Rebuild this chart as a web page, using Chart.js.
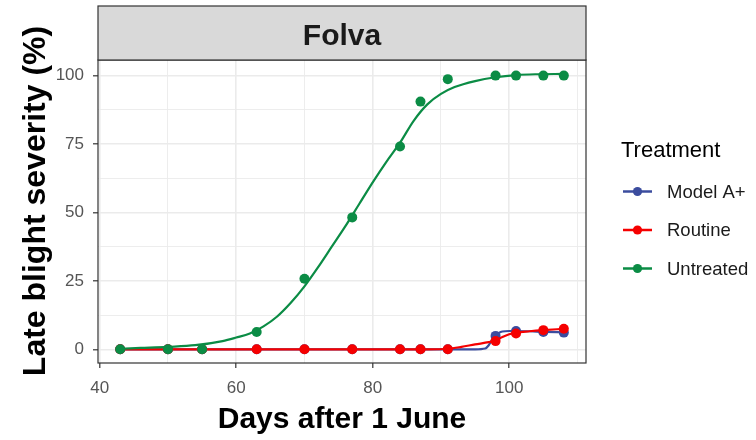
<!DOCTYPE html>
<html>
<head>
<meta charset="utf-8">
<script src="https://cdn.jsdelivr.net/npm/chart.js@4.4.1/dist/chart.umd.min.js"></script>
<style>
  html, body { margin: 0; padding: 0; background: #ffffff; }
  #wrap { width: 756px; height: 440px; position: relative; }
</style>
</head>
<body>
<div id="wrap"><canvas id="c" width="756" height="440"></canvas></div>
<script>
// Late blight severity on cultivar Folva, by treatment
const panelTitle = 'Folva';
const xTitle = 'Days after 1 June';
const yTitle = 'Late blight severity (%)';
const legendTitle = 'Treatment';
const seriesNames = ['Model A+', 'Routine', 'Untreated'];

// Observed assessments
const days = [43, 50, 55, 63, 70, 77, 84, 87, 91, 98, 101, 105, 108];
const modelA = [0, 0, 0, 0, 0, 0, 0, 0, 0, 4.9, 6.7, 6.3, 6.1];
const routine = [0, 0, 0, 0, 0, 0, 0, 0, 0, 3.0, 5.8, 7.0, 7.5];
const untreated = [0, 0, 0, 6.3, 25.8, 48.2, 74.1, 90.5, 98.7, 100, 100, 100, 100];

// Fitted progress curves
const untreatedFitDays = [43, 46, 50, 54, 58, 60, 62, 64, 66, 68, 70, 72, 74, 76, 78, 80, 82, 84, 86, 88, 90, 92, 95, 98, 101, 104, 108];
const untreatedFit = [0.2, 0.5, 0.9, 1.5, 3.0, 4.3, 5.8, 8.4, 12.0, 17.0, 23.0, 30.0, 37.5, 45.0, 53.0, 61.0, 68.5, 75.5, 83.5, 89.5, 93.3, 95.8, 98.0, 99.4, 100.2, 100.5, 100.6];
const routineFitDays = [43, 88, 91, 93, 95, 97, 98, 99, 100, 101, 103, 105, 108];
const routineFit = [0, 0, 0.2, 0.9, 1.8, 2.6, 3.2, 4.5, 5.5, 6.1, 6.6, 7.0, 7.5];
const modelAFitDays = [43, 95, 96.5, 97, 97.5, 98, 98.5, 99, 100, 101, 103, 105, 108];
const modelAFit = [0, 0, 0.3, 1.5, 3.5, 5.0, 6.0, 6.5, 6.7, 6.7, 6.6, 6.4, 6.2];

// Axis ticks (labelled) and grid positions
const xTicks = [40, 60, 80, 100];
const xGrid = [40, 50, 60, 70, 80, 90, 100, 110];
const yTicks = [0, 25, 50, 75, 100];
const yGrid = [0, 12.5, 25, 37.5, 50, 62.5, 75, 87.5, 100];

const colors = ['#3B4C9E', '#F50000', '#0B8C45'];
const FONT = '"Liberation Sans", Arial, sans-serif';

const pairs = (xs, ys) => xs.map((x, i) => ({ x: x, y: ys[i] }));

function fitSet(label, xs, ys, color, order) {
  return {
    label: label, data: pairs(xs, ys), showLine: true, borderColor: color,
    borderWidth: 2.2, pointRadius: 0, cubicInterpolationMode: 'monotone',
    fill: false, order: order
  };
}
function pointSet(label, xs, ys, color, order) {
  return {
    label: label, data: pairs(xs, ys), showLine: false, backgroundColor: color,
    borderColor: color, pointRadius: 5, pointBorderWidth: 0, order: order
  };
}

const decor = {
  id: 'decor',
  afterDatasetsDraw(chart) {
    const { ctx, chartArea: a } = chart;
    ctx.save();
    ctx.strokeStyle = '#333333';
    ctx.lineWidth = 1.2;
    ctx.strokeRect(a.left, a.top, a.right - a.left, a.bottom - a.top);
    ctx.restore();
  },
  afterDraw(chart) {
    const { ctx, chartArea: a } = chart;
    ctx.save();
    // facet strip
    const sTop = 6;
    ctx.fillStyle = '#D9D9D9';
    ctx.fillRect(a.left, sTop, a.right - a.left, a.top - sTop);
    ctx.strokeStyle = '#333333';
    ctx.lineWidth = 1.2;
    ctx.strokeRect(a.left, sTop, a.right - a.left, a.top - sTop);
    ctx.fillStyle = '#1A1A1A';
    ctx.textAlign = 'center';
    ctx.textBaseline = 'alphabetic';
    ctx.font = 'bold 30px ' + FONT;
    ctx.fillText(panelTitle, (a.left + a.right) / 2, 45);

    // axis titles
    ctx.fillStyle = '#000000';
    ctx.font = 'bold 30px ' + FONT;
    ctx.fillText(xTitle, (a.left + a.right) / 2, 428);
    ctx.save();
    ctx.translate(45, 201);
    ctx.rotate(-Math.PI / 2);
    ctx.font = 'bold 32px ' + FONT;
    ctx.fillText(yTitle, 0, 0);
    ctx.restore();

    // legend
    ctx.textAlign = 'left';
    ctx.fillStyle = '#000000';
    ctx.font = '22px ' + FONT;
    ctx.fillText(legendTitle, 621, 157);
    const ys = [191.5, 230, 268.5];
    ctx.font = '18.5px ' + FONT;
    seriesNames.forEach((name, i) => {
      const y = ys[i];
      ctx.strokeStyle = colors[i];
      ctx.lineWidth = 2.5;
      ctx.beginPath();
      ctx.moveTo(623, y);
      ctx.lineTo(652, y);
      ctx.stroke();
      ctx.fillStyle = colors[i];
      ctx.beginPath();
      ctx.arc(637.5, y, 4.6, 0, Math.PI * 2);
      ctx.fill();
      ctx.fillStyle = '#1A1A1A';
      ctx.textBaseline = 'middle';
      ctx.fillText(name, 667, y + 1);
    });
    ctx.restore();
  }
};

const gridColor = '#EBEBEB';

new Chart(document.getElementById('c'), {
  type: 'scatter',
  data: {
    datasets: [
      pointSet(seriesNames[2], days, untreated, colors[2], 1),
      fitSet(seriesNames[2], untreatedFitDays, untreatedFit, colors[2], 2),
      pointSet(seriesNames[1], days, routine, colors[1], 3),
      fitSet(seriesNames[1], routineFitDays, routineFit, colors[1], 4),
      pointSet(seriesNames[0], days, modelA, colors[0], 5),
      fitSet(seriesNames[0], modelAFitDays, modelAFit, colors[0], 6)
    ]
  },
  options: {
    responsive: false,
    animation: false,
    devicePixelRatio: 1,
    layout: { padding: { left: 0, right: 170, top: 60, bottom: 0 } },
    plugins: { legend: { display: false }, tooltip: { enabled: false } },
    scales: {
      x: {
        type: 'linear', min: 39.75, max: 111.25,
        afterBuildTicks: s => { s.ticks = xGrid.map(v => ({ value: v })); },
        afterFit: s => { s.height = 77; },
        border: { display: false },
        grid: {
          color: gridColor,
          lineWidth: c => xTicks.includes(c.tick.value) ? 1.6 : 0.9,
          drawTicks: true, tickLength: 5, tickWidth: 1.2,
          tickColor: c => xTicks.includes(c.tick.value) ? '#333333' : 'rgba(0,0,0,0)'
        },
        ticks: {
          autoSkip: false, maxRotation: 0, padding: 10,
          color: '#555555', font: { family: FONT, size: 17 },
          callback: v => xTicks.includes(v) ? String(v) : ''
        }
      },
      y: {
        type: 'linear', min: -5, max: 105.7,
        afterBuildTicks: s => { s.ticks = yGrid.map(v => ({ value: v })); },
        afterFit: s => { s.width = 98; },
        border: { display: false },
        grid: {
          color: gridColor,
          lineWidth: c => yTicks.includes(c.tick.value) ? 1.6 : 0.9,
          drawTicks: true, tickLength: 5, tickWidth: 1.2,
          tickColor: c => yTicks.includes(c.tick.value) ? '#333333' : 'rgba(0,0,0,0)'
        },
        ticks: {
          autoSkip: false, padding: 9,
          color: '#555555', font: { family: FONT, size: 17 },
          callback: v => yTicks.includes(v) ? String(v) : ''
        }
      }
    }
  },
  plugins: [decor]
});
</script>
</body>
</html>
